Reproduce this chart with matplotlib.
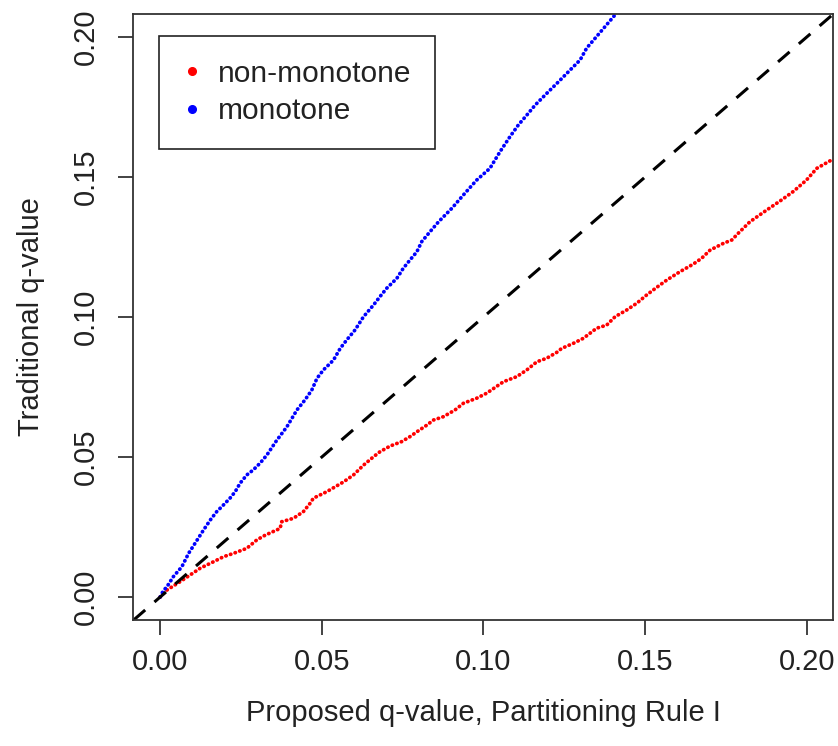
import numpy as np
import matplotlib
matplotlib.use("Agg")
import matplotlib.pyplot as plt

plt.rcParams['font.family'] = ['Liberation Sans', 'DejaVu Sans']

# values
red_x = [0.0000, 0.0021, 0.0062, 0.0093, 0.0124, 0.0165, 0.0196, 0.0227, 0.0268, 0.0299,
         0.0325, 0.0371, 0.0376, 0.0412, 0.0443, 0.0464, 0.0474, 0.0515, 0.0567, 0.0598,
         0.0629, 0.0660, 0.0680, 0.0711, 0.0747, 0.0773, 0.0799, 0.0825, 0.0845, 0.0876,
         0.0912, 0.0938, 0.0979, 0.1010, 0.1062, 0.1103, 0.1134, 0.1165, 0.1196, 0.1227,
         0.1242, 0.1278, 0.1309, 0.1350, 0.1381, 0.1407, 0.1443, 0.1474, 0.1505, 0.1536,
         0.1567, 0.1608, 0.1649, 0.1675, 0.1701, 0.1742, 0.1768, 0.1788, 0.1824, 0.1876,
         0.1922, 0.1958, 0.1999, 0.2031, 0.2077]
red_y = [0.0000, 0.0025, 0.0055, 0.0079, 0.0103, 0.0126, 0.0144, 0.0156, 0.0174, 0.0204,
         0.0221, 0.0245, 0.0269, 0.0281, 0.0305, 0.0335, 0.0353, 0.0376, 0.0411, 0.0436,
         0.0471, 0.0501, 0.0519, 0.0539, 0.0555, 0.0573, 0.0594, 0.0614, 0.0632, 0.0644,
         0.0668, 0.0692, 0.0710, 0.0728, 0.0769, 0.0787, 0.0811, 0.0840, 0.0853, 0.0874,
         0.0888, 0.0906, 0.0924, 0.0960, 0.0971, 0.1001, 0.1025, 0.1049, 0.1079, 0.1106,
         0.1132, 0.1162, 0.1189, 0.1210, 0.1239, 0.1263, 0.1275, 0.1299, 0.1340, 0.1382,
         0.1418, 0.1448, 0.1489, 0.1531, 0.1561]

blue_x = [0.0000, 0.0009, 0.0021, 0.0041, 0.0067, 0.0088, 0.0108, 0.0124, 0.0134, 0.0155,
          0.0175, 0.0196, 0.0216, 0.0232, 0.0247, 0.0268, 0.0288, 0.0309, 0.0330, 0.0359,
          0.0392, 0.0423, 0.0448, 0.0469, 0.0485, 0.0505, 0.0536, 0.0557, 0.0577, 0.0603,
          0.0629, 0.0660, 0.0680, 0.0701, 0.0732, 0.0752, 0.0773, 0.0794, 0.0809, 0.0835,
          0.0861, 0.0902, 0.0938, 0.0979, 0.1020, 0.1051, 0.1082, 0.1108, 0.1134, 0.1160,
          0.1196, 0.1232, 0.1268, 0.1299, 0.1319, 0.1345, 0.1376, 0.1407]
blue_y = [0.0000, 0.0021, 0.0037, 0.0073, 0.0108, 0.0156, 0.0192, 0.0221, 0.0239, 0.0275,
          0.0305, 0.0329, 0.0353, 0.0376, 0.0406, 0.0436, 0.0454, 0.0478, 0.0507, 0.0557,
          0.0608, 0.0668, 0.0704, 0.0739, 0.0781, 0.0811, 0.0846, 0.0888, 0.0918, 0.0954,
          0.1001, 0.1043, 0.1073, 0.1103, 0.1138, 0.1174, 0.1204, 0.1233, 0.1269, 0.1305,
          0.1340, 0.1388, 0.1436, 0.1489, 0.1531, 0.1590, 0.1644, 0.1686, 0.1721, 0.1757,
          0.1799, 0.1840, 0.1882, 0.1918, 0.1960, 0.1995, 0.2037, 0.2079]

ticks = [0.00, 0.05, 0.10, 0.15, 0.20]
labels = ["non-monotone", "monotone"]

fig = plt.figure(figsize=(8.38, 7.46), dpi=100)
ax = fig.add_axes([0.1587, 0.1689, 0.8353, 0.8123])

dots = dict(lw=2.7, ls=(0, (0.1, 1.2)), dash_capstyle='round', solid_capstyle='round')
ax.plot(red_x, red_y, color='#ff0000', **dots)
ax.plot(blue_x, blue_y, color='#0000ff', **dots)
ax.axline((0, 0), slope=1, color='black', lw=2.2, ls=(0, (5, 4)))

# legend handles (markers only)
h1, = ax.plot([], [], 'o', color='#ff0000', ms=5.5)
h2, = ax.plot([], [], 'o', color='#0000ff', ms=5.5)
leg = ax.legend([h1, h2], labels, loc='upper left', bbox_to_anchor=(0.0376, 0.9637),
                borderaxespad=0, fontsize=21.5, frameon=True, fancybox=False,
                edgecolor='#222222', framealpha=1, borderpad=0.8, labelspacing=0.32,
                handlelength=0.6, handletextpad=0.55)
leg.get_frame().set_linewidth(1.2)
for t in leg.get_texts():
    t.set_color('#222222')

ax.set_xlim(-0.0084, 0.2081)
ax.set_ylim(-0.0082, 0.2082)
ax.set_xticks(ticks)
ax.set_yticks(ticks)
ax.set_xticklabels(["%.2f" % v for v in ticks])
ax.set_yticklabels(["%.2f" % v for v in ticks], rotation=90, va='center')
ax.tick_params(axis='both', length=10.5, width=1.2, color='#222222', labelsize=21,
               labelcolor='#222222')
ax.tick_params(axis='x', pad=10)
ax.tick_params(axis='y', pad=13)
for s in ax.spines.values():
    s.set_linewidth(1.3)
    s.set_color('#333333')

ax.set_xlabel("Proposed q-value, Partitioning Rule I", fontsize=21, color='#222222', labelpad=16)
ax.set_ylabel("Traditional q-value", fontsize=21, color='#222222', labelpad=20)

fig.savefig("out.png", dpi=100)
